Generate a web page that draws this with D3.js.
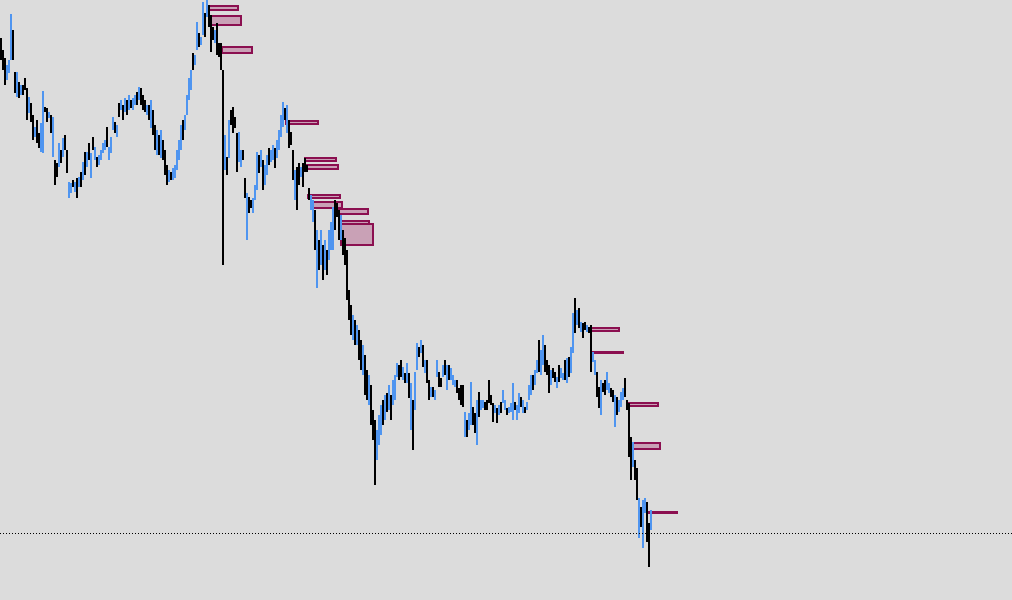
<!DOCTYPE html>
<html>
<head>
<meta charset="utf-8">
<script src="https://cdn.jsdelivr.net/npm/d3@7"></script>
<style>
html,body{margin:0;padding:0;background:#dcdcdc;overflow:hidden;}
svg{display:block;}
</style>
</head>
<body>
<svg id="chart" width="1012" height="600"></svg>
<script>
// Price data in points (bar highs / lows), one entry per sampled bar
const high = [562,550,542,535,540,586,570,528,528,518,
515,515,522,512,503,497,485,473,480,467,
477,509,493,492,488,485,483,440,437,457,
450,462,465,450,418,417,420,418,422,423,
428,438,448,448,457,447,463,453,443,445,
450,457,460,473,453,463,483,478,475,497,
500,495,502,500,505,500,502,505,508,513,
512,505,500,495,495,500,490,475,470,465,
470,460,450,435,430,428,432,435,450,460,
475,480,485,505,522,530,547,545,578,567,
563,598,587,600,595,585,573,570,577,557,
557,530,465,443,480,490,493,483,467,468,
450,450,422,407,403,400,402,415,448,445,
450,440,435,445,452,450,455,452,460,470,
485,498,492,495,480,468,450,430,433,437,
433,437,442,435,412,405,400,390,370,360,
370,355,360,350,370,378,393,400,397,390,
385,370,362,350,310,295,285,280,275,270,
260,255,245,230,225,215,190,180,170,185,
195,200,205,207,215,205,220,225,237,235,
240,233,227,237,227,217,200,228,257,253,
260,255,240,240,220,213,213,210,240,228,
222,235,240,235,235,232,225,220,220,212,
215,215,188,180,187,218,193,187,200,208,
200,200,198,200,220,205,197,195,192,195,
198,210,200,192,193,197,217,198,195,207,
203,200,193,198,215,225,225,230,240,260,
250,265,255,240,235,230,232,228,223,235,
232,227,240,242,243,253,287,302,290,292,
278,277,278,275,273,275,248,240,228,213,
220,217,220,228,217,212,210,205,203,200,
208,212,222,200,197,163,158,140,132,102,
93,100,102,98,77,90];
const low = [540,530,515,520,527,540,540,507,503,502,
505,505,510,480,487,478,460,463,457,452,
448,447,488,478,482,467,443,415,423,433,
437,443,450,427,402,407,413,408,402,413,
413,420,425,433,440,422,450,440,433,435,
440,447,450,453,440,447,470,467,463,483,
490,480,488,485,490,492,490,495,495,500,
495,490,488,485,480,472,465,450,445,445,
442,440,425,415,418,420,420,422,430,440,
450,460,470,485,500,510,530,535,550,553,
555,565,563,583,573,548,560,557,545,543,
530,335,430,425,442,475,467,472,428,438,
433,440,402,360,387,392,387,400,410,427,
433,410,415,425,435,438,440,432,442,450,
463,473,480,467,452,455,420,400,390,415,
423,413,428,428,400,390,378,350,312,330,
335,320,330,325,340,350,350,370,383,360,
360,345,335,300,280,265,260,255,255,240,
230,225,205,200,195,175,160,115,140,155,
165,175,180,188,190,180,195,200,223,220,
223,220,217,217,202,170,150,190,230,243,
247,233,227,217,200,203,203,200,223,213,
213,223,225,210,220,220,215,213,207,200,
195,193,163,163,170,175,175,167,155,183,
190,192,190,190,197,195,178,187,177,185,
187,197,190,185,187,188,180,190,180,187,
193,187,187,190,200,205,210,215,227,228,
225,235,228,225,207,215,222,218,212,218,
222,220,220,217,223,227,247,267,275,272,
268,262,270,268,267,228,238,225,203,192,
185,208,205,210,207,203,198,173,185,188,
193,200,203,190,143,120,133,120,100,62,
73,52,87,58,33,70];
// u = bullish bar (blue), d = bearish bar (black)
const direction = "ddduuuddud" + "uddduddudd" + "uuddududdu" + "dudduududu" + "dududududu" +
  "uuuduuudud" + "udududuudu" + "dddududdud" + "uddduduuuu" + "uduuuuduud" +
  "uududddudd" + "ddududdddu" + "uddudduuud" + "uduuduuduu" + "uududddud" + "d" +
  "udddduudud" + "ududuuuddd" + "udddddudud" + "dudduddduu" + "udududuuud" +
  "dudududuud" + "ududduduud" + "dududuuudd" + "dduduuddud" + "uudddddudu" +
  "duuduuuduu" + "duduuuduud" + "uuddduddud" + "uududuudud" + "uddudduudd" +
  "udduuddudu" + "uudddduddu" + "duuddu";
const barStep = 2; // bar index step of the sampled bars
const barIndex = high.map((_, i) => i * barStep);

// Supply / demand zones: bar index range and price range
const zoneStart = [208, 209, 221, 285, 304, 306, 307, 311, 337, 339, 340, 588, 592, 627, 631, 646];
const zoneEnd   = [239, 242, 253, 319, 337, 339, 341, 343, 369, 370, 374, 620, 624, 659, 661, 678];
const zoneHigh  = [595, 585, 554, 480, 443, 436, 406, 399, 392, 380, 377, 273, 249, 198, 158, 89];
const zoneLow   = [589, 574, 546, 475, 438, 430, 401, 391, 385, 372, 354, 268, 246, 193, 150, 86];

// Current price level (dotted line)
const bidLevel = [67];

const W = 1012, H = 600;
const svg = d3.select("#chart");
const x = d3.scaleLinear().domain([0, 1012]).range([0, W]);
const y = d3.scaleLinear().domain([0, 600]).range([H, 0]);

svg.append("rect").attr("width", W).attr("height", H).attr("fill", "#dcdcdc");

const zones = zoneStart.map((s, i) => ({s, e: zoneEnd[i], hi: zoneHigh[i], lo: zoneLow[i]}));
svg.append("g").selectAll("rect").data(zones).join("rect")
  .attr("x", d => x(d.s) + 1)
  .attr("y", d => y(d.hi) + 1)
  .attr("width", d => Math.max(0.5, x(d.e) - x(d.s) - 2))
  .attr("height", d => Math.max(0.5, y(d.lo) - y(d.hi) - 2))
  .attr("fill", "#c9a1b6")
  .attr("stroke", "#8b0f50")
  .attr("stroke-width", 2);

const bars = barIndex.map((t, i) => ({t, hi: high[i], lo: low[i], up: direction[i] === "u"}));
svg.append("g").selectAll("rect").data(bars).join("rect")
  .attr("x", d => x(d.t))
  .attr("width", d => x(d.t + barStep) - x(d.t))
  .attr("y", d => y(d.hi))
  .attr("height", d => Math.max(1, y(d.lo) - y(d.hi)))
  .attr("fill", d => d.up ? "#4f95f0" : "#000000");

svg.append("g").selectAll("line").data(bidLevel).join("line")
  .attr("x1", 0).attr("x2", W)
  .attr("y1", d => Math.round(y(d)) + 0.5)
  .attr("y2", d => Math.round(y(d)) + 0.5)
  .attr("stroke", "#000")
  .attr("stroke-width", 1)
  .attr("stroke-dasharray", "1,2");
</script>
</body>
</html>
